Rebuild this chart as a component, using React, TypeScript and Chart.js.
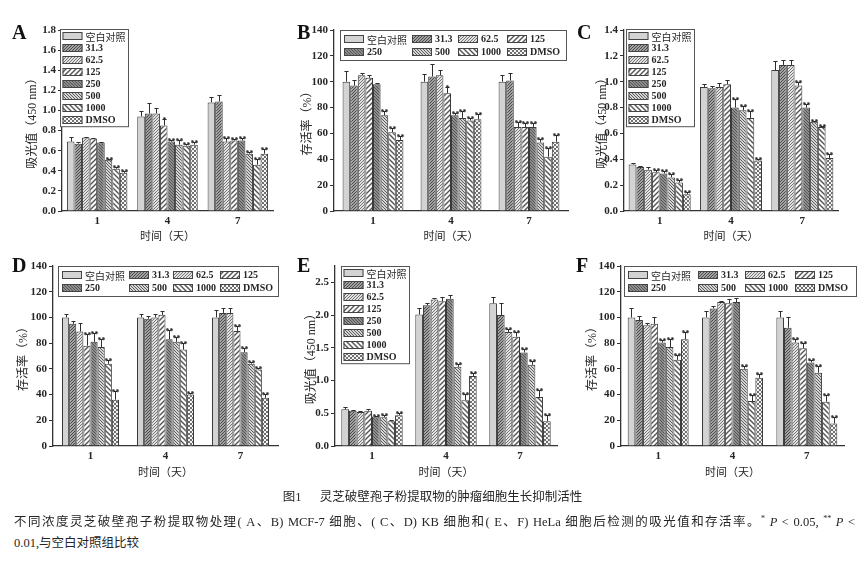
import React, { useEffect, useRef } from 'react';
import { Chart, registerables } from 'chart.js';

Chart.register(...registerables);

// ---------- data ----------
const DAYS = ['1', '4', '7'];
const SERIES = ['空白对照', '31.3', '62.5', '125', '250', '500', '1000', 'DMSO'];
const ABS_TITLE = '吸光值（450 nm）';
const SURV_TITLE = '存活率（%）';
const X_TITLE = '时间（天）';

// rows: day 1, 4, 7 ; columns: series in SERIES order
const A_mean = [
  [0.69, 0.67, 0.73, 0.72, 0.68, 0.51, 0.42, 0.38],
  [0.94, 0.97, 0.97, 0.85, 0.69, 0.66, 0.65, 0.66],
  [1.08, 1.09, 0.69, 0.7, 0.7, 0.57, 0.46, 0.57],
];
const A_err = [
  [0.05, 0.02, 0.01, 0.01, 0.005, 0.01, 0.02, 0.02],
  [0.05, 0.1, 0.05, 0.06, 0.02, 0.05, 0.02, 0.03],
  [0.05, 0.06, 0.04, 0.02, 0.03, 0.02, 0.06, 0.05],
];
const A_sig = [
  [0, 0, 0, 0, 0, 2, 2, 2],
  [0, 0, 0, 1, 2, 2, 2, 2],
  [0, 0, 2, 2, 2, 2, 2, 2],
];

const B_mean = [
  [100, 97, 105, 103, 98, 74, 61, 55],
  [100, 104, 105, 91, 74, 72, 70, 71],
  [100, 101, 65, 65, 65, 53, 42, 53.5],
];
const B_err = [
  [8, 4, 2, 2, 1, 3, 3, 3],
  [6, 10, 4, 5, 2, 5, 2, 4],
  [5, 6, 4, 3, 3, 3, 7, 5],
];
const B_sig = [
  [0, 0, 0, 0, 0, 2, 2, 2],
  [0, 0, 0, 1, 2, 2, 2, 2],
  [0, 0, 2, 2, 2, 2, 2, 2],
];

const C_mean = [
  [0.36, 0.34, 0.32, 0.3, 0.29, 0.26, 0.22, 0.13],
  [0.96, 0.95, 0.96, 0.98, 0.8, 0.78, 0.72, 0.39],
  [1.09, 1.13, 1.13, 0.97, 0.8, 0.69, 0.65, 0.41],
];
const C_err = [
  [0.01, 0.005, 0.02, 0.02, 0.02, 0.03, 0.02, 0.02],
  [0.02, 0.02, 0.03, 0.03, 0.07, 0.03, 0.05, 0.01],
  [0.07, 0.04, 0.04, 0.03, 0.03, 0.01, 0.01, 0.03],
];
const C_sig = [
  [0, 0, 0, 2, 2, 2, 2, 2],
  [0, 0, 0, 0, 2, 2, 2, 2],
  [0, 0, 0, 2, 2, 2, 2, 2],
];

const D_mean = [
  [100, 95, 89, 78, 81, 77, 64, 36],
  [100, 99, 100, 102, 83, 81, 75, 40],
  [100, 103.5, 103.5, 89.5, 73, 64, 59.5, 37.5],
];
const D_err = [
  [3, 2, 7, 9, 7, 6, 3, 7],
  [3, 2, 3, 3, 7, 4, 5, 1],
  [6, 4, 4, 4, 3, 1, 1, 3],
];
const D_sig = [
  [0, 0, 0, 2, 2, 2, 2, 2],
  [0, 0, 0, 0, 2, 2, 2, 2],
  [0, 0, 0, 2, 2, 2, 2, 2],
];

const E_mean = [
  [0.56, 0.54, 0.52, 0.54, 0.45, 0.44, 0.38, 0.47],
  [2.01, 2.15, 2.24, 2.21, 2.25, 1.21, 0.7, 1.07],
  [2.18, 2.0, 1.74, 1.67, 1.43, 1.24, 0.75, 0.38],
];
const E_err = [
  [0.03, 0.01, 0.01, 0.02, 0.01, 0.03, 0.01, 0.04],
  [0.1, 0.03, 0.02, 0.06, 0.05, 0.05, 0.1, 0.05],
  [0.1, 0.18, 0.05, 0.07, 0.05, 0.06, 0.1, 0.1],
];
const E_sig = [
  [0, 0, 0, 0, 2, 2, 0, 2],
  [0, 0, 0, 0, 0, 2, 2, 2],
  [0, 0, 2, 2, 2, 2, 2, 2],
];

const F_mean = [
  [100, 98, 94, 95, 80.5, 77, 67, 83],
  [100, 107, 112, 111, 112, 60, 35, 53],
  [100, 92, 80.5, 76, 65, 57, 34.5, 17.5],
];
const F_err = [
  [7, 3, 2, 5, 2, 6, 4, 6],
  [5, 2, 1, 3, 3, 2, 5, 3],
  [5, 8, 3, 4, 2, 5, 5, 5],
];
const F_sig = [
  [0, 0, 0, 0, 2, 2, 2, 2],
  [0, 0, 0, 0, 0, 2, 2, 2],
  [0, 0, 2, 2, 2, 2, 2, 2],
];

// ---------- styling / layout ----------
const INK = '#262626';
const SERIF = '"Liberation Serif", "Times New Roman", serif';
const MIXED = '"Liberation Serif", "Noto Sans CJK SC", serif';
const CJK = '"Noto Sans CJK SC", sans-serif';

const PANELS = [
  { id: 'A', x0: 0, y0: 0, w: 290, h: 250, L: 62, T: 30, R: 273, B: 211, yTitleX: 33, xTitleY: 237,
    max: 1.8, step: 0.2, dec: 1, yTitle: ABS_TITLE, mean: A_mean, err: A_err, sig: A_sig, cat: 0.86,
    legend: { cols: 1, dx: -2, dy: -1 }, letter: { x: 12, y: 22 } },
  { id: 'B', x0: 290, y0: 0, w: 285, h: 250, L: 334, T: 30, R: 568, B: 211, yTitleX: 308, xTitleY: 237,
    max: 140, step: 20, dec: 0, yTitle: SURV_TITLE, mean: B_mean, err: B_err, sig: B_sig, cat: 0.78,
    legend: { cols: 4, dx: 6, dy: 0, width: 226 }, letter: { x: 297, y: 22 } },
  { id: 'C', x0: 575, y0: 0, w: 290, h: 250, L: 624, T: 30, R: 838, B: 211, yTitleX: 603, xTitleY: 237,
    max: 1.4, step: 0.2, dec: 1, yTitle: ABS_TITLE, mean: C_mean, err: C_err, sig: C_sig, cat: 0.87,
    legend: { cols: 1, dx: 2, dy: -1 }, letter: { x: 577, y: 22 } },
  { id: 'D', x0: 0, y0: 245, w: 290, h: 245, L: 53, T: 266, R: 278, B: 446, yTitleX: 24, xTitleY: 473,
    max: 140, step: 20, dec: 0, yTitle: SURV_TITLE, mean: D_mean, err: D_err, sig: D_sig, cat: 0.76,
    legend: { cols: 4, dx: 5, dy: 0, width: 220 }, letter: { x: 12, y: 255 } },
  { id: 'E', x0: 290, y0: 245, w: 285, h: 245, L: 335, T: 266, R: 557, B: 446, yTitleX: 312, xTitleY: 473,
    max: 2.75, step: 0.5, dec: 1, yTitle: ABS_TITLE, mean: E_mean, err: E_err, sig: E_sig, cat: 0.83,
    legend: { cols: 1, dx: 6, dy: 0 }, letter: { x: 297, y: 255 } },
  { id: 'F', x0: 575, y0: 245, w: 290, h: 245, L: 621, T: 266, R: 844, B: 446, yTitleX: 593, xTitleY: 473,
    max: 140, step: 20, dec: 0, yTitle: SURV_TITLE, mean: F_mean, err: F_err, sig: F_sig, cat: 0.82,
    legend: { cols: 4, dx: 3, dy: 0, width: 232 }, letter: { x: 576, y: 255 } },
];

function hatch(bg: string, fg: string, dir: string, s: number, lw: number) {
  const c = document.createElement('canvas');
  c.width = s;
  c.height = s;
  const g = c.getContext('2d')!;
  g.fillStyle = bg;
  g.fillRect(0, 0, s, s);
  g.strokeStyle = fg;
  g.lineWidth = lw;
  g.beginPath();
  if (dir === '/') {
    g.moveTo(-1, s + 1); g.lineTo(s + 1, -1);
    g.moveTo(-1, 1); g.lineTo(1, -1);
    g.moveTo(s - 1, s + 1); g.lineTo(s + 1, s - 1);
  } else {
    g.moveTo(-1, -1); g.lineTo(s + 1, s + 1);
    g.moveTo(s - 1, -1); g.lineTo(s + 1, 1);
    g.moveTo(-1, s - 1); g.lineTo(1, s + 1);
  }
  g.stroke();
  return g.createPattern(c, 'repeat')!;
}

function checker(bg: string, fg: string) {
  const c = document.createElement('canvas');
  c.width = 4;
  c.height = 4;
  const g = c.getContext('2d')!;
  g.fillStyle = bg;
  g.fillRect(0, 0, 4, 4);
  g.fillStyle = fg;
  g.fillRect(0, 0, 2, 2);
  g.fillRect(2, 2, 2, 2);
  return g.createPattern(c, 'repeat')!;
}

function makePatterns(): any[] {
  return [
    '#d3d3d3',
    hatch('#a2a2a2', '#4a4a4a', '/', 3, 1),
    hatch('#e2e2e2', '#6a6a6a', '/', 3, 0.9),
    hatch('#fbfbfb', '#555555', '/', 5, 1.4),
    hatch('#8e8e8e', '#555555', '\\', 3, 1),
    hatch('#d4d4d4', '#5e5e5e', '\\', 3, 1),
    hatch('#fbfbfb', '#555555', '\\', 5, 1.4),
    checker('#f4f4f4', '#707070'),
  ];
}

const hasCJK = (t: string) => /[\u3000-\u9fff\uff00-\uffef]/.test(t);
const legendFont = (t: string) => (hasCJK(t) ? `10px ${CJK}` : `bold 10px ${SERIF}`);

function Panel({ p }: { p: any }) {
  const ref = useRef<HTMLCanvasElement>(null);
  useEffect(() => {
    const canvas = ref.current;
    if (!canvas) return;
    const pats = makePatterns();
    const yLH = 12 * 1.2;
    const xLH = 11 * 1.2;
    const padLeft = p.yTitleX - p.x0 - yLH / 2;
    const yWidth = p.L - p.x0 - padLeft;
    const xHeight = p.y0 + p.h - p.B;
    const xTitlePad = p.y0 + p.h - p.xTitleY - xLH / 2;

    const datasets = SERIES.map((name, s) => ({
      label: name,
      data: p.mean.map((row: number[]) => row[s]),
      backgroundColor: pats[s],
      borderColor: '#3a3a3a',
      borderWidth: 1,
      barPercentage: 1,
      categoryPercentage: p.cat,
    }));

    const errPlugin = {
      id: 'err' + p.id,
      afterDatasetsDraw(chart: any) {
        const ctx = chart.ctx;
        const yS = chart.scales.y;
        ctx.save();
        ctx.strokeStyle = '#2e2e2e';
        ctx.fillStyle = INK;
        ctx.lineWidth = 1;
        ctx.textAlign = 'center';
        ctx.textBaseline = 'alphabetic';
        ctx.font = `bold 8px ${SERIF}`;
        chart.data.datasets.forEach((ds: any, s: number) => {
          const meta = chart.getDatasetMeta(s);
          meta.data.forEach((bar: any, d: number) => {
            const v = p.mean[d][s];
            const e = p.err[d][s];
            const x = Math.round(bar.x) + 0.5;
            const yTop = yS.getPixelForValue(v);
            const yE = Math.round(yS.getPixelForValue(v + e)) + 0.5;
            const cw = Math.max(3, bar.width * 0.55);
            ctx.beginPath();
            ctx.moveTo(x, yTop);
            ctx.lineTo(x, yE);
            ctx.moveTo(x - cw / 2, yE);
            ctx.lineTo(x + cw / 2, yE);
            ctx.stroke();
            const sg = p.sig[d][s];
            if (sg > 0) {
              ctx.fillText(sg === 2 ? '**' : '*', x, yE + 3);
            }
          });
        });
        ctx.restore();
      },
    };

    const legendPlugin = {
      id: 'leg' + p.id,
      afterDraw(chart: any) {
        const ctx = chart.ctx;
        const ca = chart.chartArea;
        const lg = p.legend;
        const x0 = Math.round(ca.left + lg.dx) + 0.5;
        const y0 = Math.round(ca.top + lg.dy) + 0.5;
        const items = chart.data.datasets;
        const sw = 20;
        const sh = 8;
        ctx.save();
        ctx.textBaseline = 'middle';
        ctx.textAlign = 'left';
        const tw = items.map((d: any) => {
          ctx.font = legendFont(d.label);
          return ctx.measureText(d.label).width;
        });
        const drawItem = (i: number, x: number, cy: number) => {
          const d = items[i];
          ctx.fillStyle = d.backgroundColor;
          ctx.fillRect(x, Math.round(cy - sh / 2), sw, sh);
          ctx.strokeStyle = '#444';
          ctx.lineWidth = 1;
          ctx.strokeRect(x + 0.5, Math.round(cy - sh / 2) + 0.5, sw - 1, sh - 1);
          ctx.fillStyle = INK;
          ctx.font = legendFont(d.label);
          ctx.fillText(d.label, x + sw + 3, cy + 0.5);
        };
        if (lg.cols === 1) {
          const rowH = 11.9;
          const w = 2 + sw + 3 + Math.max(...tw) + 3;
          const h = rowH * items.length + 2;
          ctx.fillStyle = '#fff';
          ctx.fillRect(x0, y0, w, h);
          ctx.strokeStyle = '#555';
          ctx.lineWidth = 1;
          ctx.strokeRect(x0, y0, w, h);
          items.forEach((_: any, i: number) => drawItem(i, x0 + 2, y0 + 1 + rowH * (i + 0.5)));
        } else {
          const rowH = 12.5;
          const colContent = [0, 1, 2, 3].map((c) => sw + 3 + Math.max(tw[c], tw[c + 4]));
          const sum = colContent.reduce((a, b) => a + b, 0);
          const gap = Math.max(4, (lg.width - 4 - sum) / 4);
          const w = lg.width;
          const h = rowH * 2 + 5;
          ctx.fillStyle = '#fff';
          ctx.fillRect(x0, y0, w, h);
          ctx.strokeStyle = '#555';
          ctx.lineWidth = 1;
          ctx.strokeRect(x0, y0, w, h);
          let cx = x0 + 3;
          for (let c = 0; c < 4; c++) {
            for (let r = 0; r < 2; r++) {
              drawItem(r * 4 + c, Math.round(cx), y0 + 2.5 + rowH * (r + 0.5));
            }
            cx += colContent[c] + gap;
          }
        }
        ctx.restore();
      },
    };

    const chart = new Chart(canvas, {
      type: 'bar',
      data: { labels: DAYS, datasets },
      options: {
        responsive: false,
        animation: false,
        devicePixelRatio: 1,
        layout: {
          padding: { left: padLeft, top: p.T - p.y0, right: p.x0 + p.w - p.R, bottom: 0 },
        },
        plugins: {
          legend: { display: false },
          tooltip: { enabled: false },
        },
        scales: {
          x: {
            grid: { display: false, drawTicks: false },
            border: { display: true, color: '#333', width: 1.3 },
            ticks: { color: INK, font: { family: SERIF, size: 11, weight: 'bold' }, padding: 4 },
            title: {
              display: true,
              text: X_TITLE,
              color: INK,
              font: { family: MIXED, size: 11, weight: 'normal' },
              padding: { top: 0, bottom: xTitlePad },
            },
            afterFit: (s: any) => {
              s.height = xHeight;
            },
          },
          y: {
            min: 0,
            max: p.max,
            grid: { drawOnChartArea: false, drawTicks: true, tickLength: 4, tickColor: '#333', tickWidth: 1 },
            border: { display: true, color: '#333', width: 1.3 },
            ticks: {
              stepSize: p.step,
              includeBounds: false,
              color: INK,
              font: { family: SERIF, size: 11, weight: 'bold' },
              padding: 2,
              callback: (v: any) => Number(v).toFixed(p.dec),
            },
            title: {
              display: true,
              text: p.yTitle,
              color: INK,
              font: { family: MIXED, size: 12, weight: 'normal' },
              padding: 0,
            },
            afterFit: (s: any) => {
              s.width = yWidth;
            },
          },
        },
      } as any,
      plugins: [errPlugin, legendPlugin],
    });
    return () => chart.destroy();
  }, [p]);
  return (
    <canvas
      ref={ref}
      width={p.w}
      height={p.h}
      style={{ position: 'absolute', left: p.x0, top: p.y0, width: p.w, height: p.h }}
    />
  );
}

export default function App() {
  return (
    <div
      style={{
        position: 'absolute',
        left: 0,
        top: 0,
        width: 865,
        height: 562,
        background: '#fff',
        overflow: 'hidden',
        color: INK,
      }}
    >
      {PANELS.map((p) => (
        <Panel key={p.id} p={p} />
      ))}
      {PANELS.map((p) => (
        <div
          key={'l' + p.id}
          style={{
            position: 'absolute',
            left: p.letter.x,
            top: p.letter.y,
            font: `bold 20px ${SERIF}`,
            lineHeight: '20px',
            color: '#111',
          }}
        >
          {p.id}
        </div>
      ))}
      <div
        style={{
          position: 'absolute',
          left: 0,
          top: 488,
          width: 865,
          textAlign: 'center',
          fontFamily: MIXED,
          fontSize: 12.5,
          lineHeight: '18px',
          whiteSpace: 'nowrap',
        }}
      >
        图1<span style={{ display: 'inline-block', width: 18 }} />灵芝破壁孢子粉提取物的肿瘤细胞生长抑制活性
      </div>
      <div
        style={{
          position: 'absolute',
          left: 14,
          top: 510,
          width: 841,
          fontFamily: MIXED,
          fontSize: 12.5,
          lineHeight: '18px',
          textAlign: 'justify',
          textAlignLast: 'justify',
          whiteSpace: 'nowrap',
        } as any}
      >
        不同浓度灵芝破壁孢子粉提取物处理( A、B) MCF-7 细胞、( C、D) KB 细胞和( E、F) HeLa 细胞后检测的吸光值和存活率。
        <sup style={{ fontSize: 8 }}>*</sup> <i>P</i> &lt; 0.05, <sup style={{ fontSize: 8 }}>**</sup> <i>P</i> &lt;
      </div>
      <div
        style={{
          position: 'absolute',
          left: 14,
          top: 534,
          fontFamily: MIXED,
          fontSize: 12.5,
          lineHeight: '18px',
          whiteSpace: 'nowrap',
        }}
      >
        0.01,与空白对照组比较
      </div>
    </div>
  );
}
